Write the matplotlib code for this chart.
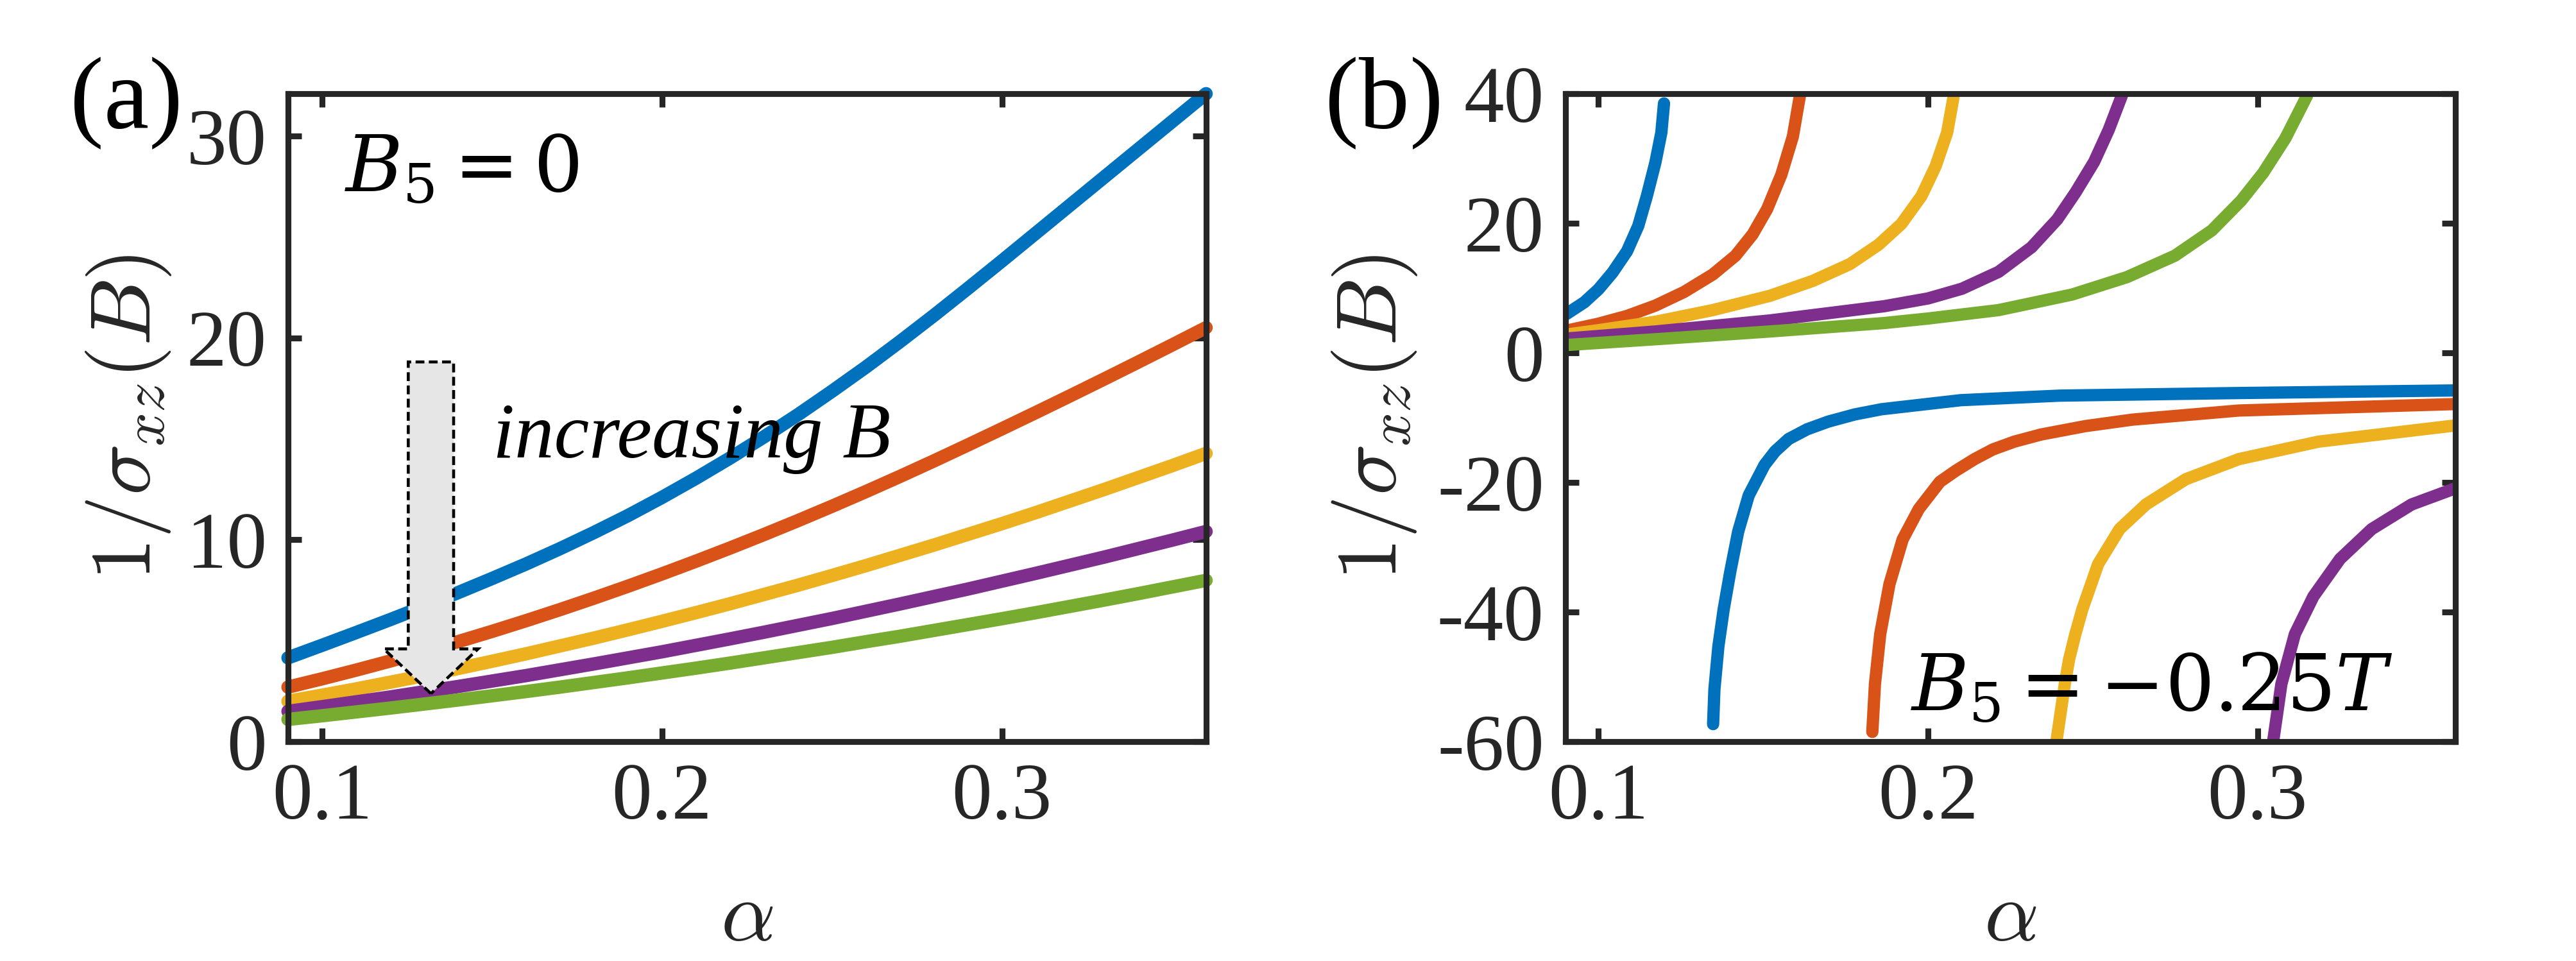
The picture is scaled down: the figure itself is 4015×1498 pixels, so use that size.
import matplotlib
matplotlib.use("Agg")
import matplotlib.pyplot as plt
from matplotlib.patches import FancyArrow

plt.rcParams['font.family'] = ['Liberation Serif', 'DejaVu Serif']
plt.rcParams['mathtext.fontset'] = 'cm'
plt.rcParams['axes.unicode_minus'] = False

# MATLAB default line colours, one per field value
COLORS = ['#0072BD', '#D95319', '#EDB120', '#7E2F8E', '#77AC30']

# ---- panel (a): B5 = 0 ----
alpha_a = [0.09, 0.10, 0.11, 0.12, 0.13, 0.14, 0.15, 0.16, 0.17, 0.18,
           0.19, 0.20, 0.21, 0.22, 0.23, 0.24, 0.25, 0.26, 0.27, 0.28,
           0.29, 0.30, 0.31, 0.32, 0.33, 0.34, 0.35, 0.36]
a_blue = [4.15, 4.77, 5.40, 6.04, 6.70, 7.38, 8.08, 8.80, 9.56, 10.36,
          11.20, 12.10, 13.05, 14.05, 15.10, 16.20, 17.36, 18.56, 19.82, 21.12,
          22.46, 23.82, 25.20, 26.58, 27.96, 29.34, 30.72, 32.10]
a_orange = [2.70, 3.11, 3.54, 3.99, 4.46, 4.95, 5.46, 5.99, 6.54, 7.11,
            7.70, 8.31, 8.94, 9.59, 10.26, 10.95, 11.66, 12.39, 13.14, 13.91,
            14.70, 15.50, 16.31, 17.13, 17.96, 18.80, 19.65, 20.51]
a_yellow = [2.00, 2.30, 2.61, 2.94, 3.27, 3.62, 3.98, 4.35, 4.74, 5.13,
            5.54, 5.96, 6.39, 6.83, 7.29, 7.75, 8.23, 8.72, 9.23, 9.74,
            10.27, 10.80, 11.35, 11.92, 12.49, 13.08, 13.67, 14.28]
a_purple = [1.50, 1.73, 1.97, 2.21, 2.47, 2.73, 3.00, 3.27, 3.56, 3.85,
            4.15, 4.45, 4.77, 5.09, 5.42, 5.76, 6.10, 6.46, 6.82, 7.19,
            7.56, 7.95, 8.34, 8.74, 9.14, 9.56, 9.98, 10.41]
a_green = [1.10, 1.28, 1.47, 1.66, 1.86, 2.06, 2.27, 2.48, 2.70, 2.93,
           3.16, 3.40, 3.64, 3.89, 4.15, 4.41, 4.67, 4.95, 5.22, 5.51,
           5.80, 6.09, 6.39, 6.70, 7.01, 7.33, 7.66, 7.99]

# ---- panel (b): B5 = -0.25T, branches above the pole ----
b_up_blue_x = [0.0903, 0.0957, 0.100, 0.1043, 0.1087, 0.1121, 0.1147, 0.1173, 0.1191, 0.1199]
b_up_blue_y = [6.0, 7.8, 9.8, 12.4, 15.7, 19.6, 24.2, 29.4, 34.0, 38.5]
b_up_orange_x = [0.09, 0.100, 0.1087, 0.1173, 0.126, 0.1347, 0.1416, 0.1468, 0.1512, 0.1555, 0.159, 0.1611]
b_up_orange_y = [3.4, 4.5, 5.7, 7.3, 9.4, 12.1, 15.0, 18.3, 22.2, 27.5, 33.4, 39.6]
b_up_yellow_x = [0.09, 0.100, 0.1173, 0.1347, 0.152, 0.165, 0.1763, 0.185, 0.1919, 0.198, 0.2023, 0.2058, 0.2077]
b_up_yellow_y = [2.8, 3.5, 4.8, 6.6, 8.8, 11.1, 13.7, 16.7, 19.9, 24.2, 28.8, 34.0, 39.4]
b_up_purple_x = [0.09, 0.1173, 0.152, 0.1867, 0.200, 0.2103, 0.2214, 0.2314, 0.2392, 0.2448, 0.2504, 0.2548, 0.2588]
b_up_purple_y = [2.2, 3.3, 5.0, 7.2, 8.4, 9.9, 12.5, 16.3, 20.6, 24.8, 29.5, 34.4, 39.7]
b_up_green_x = [0.09, 0.1173, 0.152, 0.1867, 0.200, 0.2214, 0.2437, 0.2604, 0.2749, 0.2861, 0.295, 0.3017, 0.3084, 0.315]
b_up_green_y = [1.2, 2.1, 3.3, 4.6, 5.3, 6.6, 9.0, 11.7, 15.0, 18.9, 23.5, 27.8, 33.1, 39.7]

# branches below the pole
b_lo_blue_x = [0.1348, 0.1352, 0.1364, 0.138, 0.140, 0.1424, 0.1456, 0.1504, 0.1536,
               0.1577, 0.1633, 0.1698, 0.1778, 0.1859, 0.210, 0.240, 0.2943, 0.360]
b_lo_blue_y = [-57.3, -51.9, -45.3, -39.6, -33.8, -27.6, -22.0, -17.3, -15.2,
               -13.3, -11.8, -10.6, -9.5, -8.7, -7.3, -6.6, -6.2, -5.8]
b_lo_orange_x = [0.1831, 0.1839, 0.1855, 0.1883, 0.1923, 0.1972, 0.2036, 0.2084,
                 0.2141, 0.2197, 0.2262, 0.2343, 0.2478, 0.2621, 0.2943, 0.360]
b_lo_orange_y = [-58.5, -51.1, -43.4, -35.7, -28.8, -24.1, -19.9, -18.2,
                 -16.4, -14.9, -13.7, -12.6, -11.3, -10.3, -8.9, -7.9]
b_lo_yellow_x = [0.239, 0.2415, 0.2428, 0.2447, 0.2468, 0.2516, 0.2581, 0.2661, 0.2782, 0.2943, 0.3185, 0.360]
b_lo_yellow_y = [-59.8, -51.1, -47.3, -43.4, -39.6, -32.6, -27.2, -23.4, -19.5, -16.4, -13.7, -11.2]
b_lo_purple_x = [0.3048, 0.3072, 0.3113, 0.3169, 0.325, 0.3346, 0.3467, 0.360]
b_lo_purple_y = [-59.6, -51.1, -43.4, -37.6, -31.8, -27.2, -23.4, -20.9]


def style_axes(ax):
    for sp in ax.spines.values():
        sp.set_linewidth(2.2)
        sp.set_color('#262626')
    ax.tick_params(direction='in', top=True, right=True, length=5, width=2.2,
                   color='#262626', labelsize=30, labelcolor='#262626')
    ax.tick_params(axis='y', pad=8)
    ax.tick_params(axis='x', pad=8)


fig = plt.figure(figsize=(4015 / 300, 1498 / 300), dpi=300)
ax1 = fig.add_axes([0.1118, 0.2283, 0.3564, 0.6742])
ax2 = fig.add_axes([0.6077, 0.2283, 0.3455, 0.6742])

# panel (a)
for ys, c in zip([a_blue, a_orange, a_yellow, a_purple, a_green], COLORS):
    ax1.plot(alpha_a, ys, color=c, lw=5, solid_capstyle='round',
             solid_joinstyle='round', clip_on=False)
ax1.set_xlim(0.09, 0.36)
ax1.set_ylim(0, 32.1)
ax1.set_xticks([0.1, 0.2, 0.3])
ax1.set_yticks([0, 10, 20, 30])
style_axes(ax1)
ax1.set_ylabel(r'$1/\sigma_{xz}(B)$', fontsize=32, color='#262626')
ax1.yaxis.set_label_coords(-0.125, 0.5)
ax1.set_xlabel(r'$\alpha$', fontsize=32, color='#262626')
ax1.xaxis.set_label_coords(0.5, -0.215)
ax1.text(0.0615, 0.8495, r'$B_5 = 0$', transform=ax1.transAxes, fontsize=29,
         math_fontfamily='dejavuserif', va='baseline', ha='left')
ax1.text(0.2229, 0.4386, 'increasing B', transform=ax1.transAxes, fontsize=29.5,
         style='italic', va='baseline', ha='left')
arrow = FancyArrow(0.1557, 0.586, 0, 0.0741 - 0.586, width=0.0494, head_width=0.1027,
                   head_length=0.069, length_includes_head=True, transform=ax1.transAxes,
                   facecolor='#e6e6e6', edgecolor='black', linewidth=1.1,
                   linestyle=(0, (3, 1.5)), zorder=5)
ax1.add_patch(arrow)

# panel (b)
upper = [(b_up_blue_x, b_up_blue_y), (b_up_orange_x, b_up_orange_y),
         (b_up_yellow_x, b_up_yellow_y), (b_up_purple_x, b_up_purple_y),
         (b_up_green_x, b_up_green_y)]
lower = [(b_lo_blue_x, b_lo_blue_y), (b_lo_orange_x, b_lo_orange_y),
         (b_lo_yellow_x, b_lo_yellow_y), (b_lo_purple_x, b_lo_purple_y)]
for (xs, ys), c in zip(upper + lower, COLORS + COLORS[:4]):
    ax2.plot(xs, ys, color=c, lw=4.6, solid_capstyle='round', solid_joinstyle='round')
ax2.set_xlim(0.09, 0.36)
ax2.set_ylim(-60, 40)
ax2.set_xticks([0.1, 0.2, 0.3])
ax2.set_yticks([-60, -40, -20, 0, 20, 40])
style_axes(ax2)
ax2.set_ylabel(r'$1/\sigma_{xz}(B)$', fontsize=32, color='#262626')
ax2.yaxis.set_label_coords(-0.164, 0.5)
ax2.set_xlabel(r'$\alpha$', fontsize=32, color='#262626')
ax2.xaxis.set_label_coords(0.5, -0.215)
ax2.text(0.3876, 0.0485, r'$B_5 = {-}0.25T$', transform=ax2.transAxes, fontsize=29,
         math_fontfamily='dejavuserif', va='baseline', ha='left')

fig.text(0.0271, 0.867, '(a)', fontsize=38, va='baseline', ha='left')
fig.text(0.5143, 0.867, '(b)', fontsize=38, va='baseline', ha='left')

fig.savefig('out.png', dpi=300)
